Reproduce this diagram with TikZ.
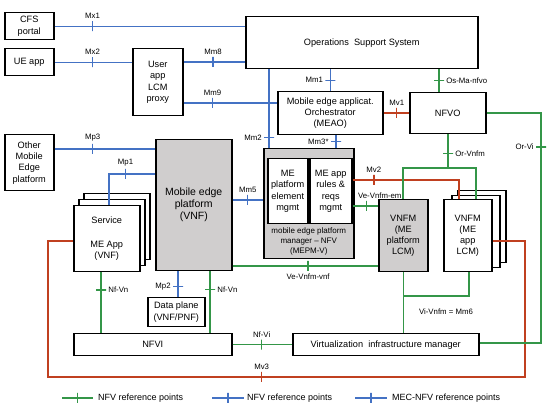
\documentclass[tikz,border=0pt]{standalone}
\usepackage{fontspec}
\setmainfont{Liberation Sans}
\usepackage{tikz}
\usetikzlibrary{positioning}

\definecolor{mecblue}{RGB}{68,114,196}
\definecolor{nfvgreen}{RGB}{52,150,72}
\definecolor{mvred}{RGB}{192,64,32}
\definecolor{boxgray}{RGB}{208,206,206}

\begin{document}
\begin{tikzpicture}[
  x=1pt, y=-1pt,
  box/.style = {draw, line width=1.5pt, align=center, anchor=north west, fill=white,
                inner sep=1pt, font=\fontsize{9.2}{11.3}\selectfont},
  graybox/.style = {box, fill=boxgray},
  lbl/.style = {font=\fontsize{7.8}{9}\selectfont, inner sep=1pt, text=black},
  legend/.style = {font=\fontsize{9}{11}\selectfont, inner sep=1pt, anchor=west},
  tickh/.style = {draw=tickcolor, line width=1.4pt, minimum width=0pt, minimum height=10pt,
                  inner sep=0pt, label distance=4pt},
  tickv/.style = {draw=tickcolor, line width=1.4pt, minimum width=10pt, minimum height=0pt,
                  inner sep=0pt, label distance=2pt},
  mec/.style = {draw=mecblue, line width=1.4pt},
  nfv/.style = {draw=nfvgreen, line width=1.4pt},
  mv/.style = {draw=mvred, line width=1.4pt},
  every label/.style = {lbl}
]
  \useasboundingbox (0,0) rectangle (550,411);

  % left column
  \node[box, minimum width=49pt, minimum height=27pt] (cfs)   at (4,12)  {CFS\\portal};
  \node[box, minimum width=49pt, minimum height=27pt] (ueapp) at (4,48)  {UE app};
  \node[box, minimum width=50pt, minimum height=67pt] (proxy) at (132,48) {User\\app\\LCM\\proxy};
  \node[box, minimum width=49pt, minimum height=56pt] (other) at (4,134) {Other\\Mobile\\Edge\\platform};

  % management layer
  \node[box, minimum width=232pt, minimum height=52pt] (oss)  at (245,16) {Operations\ \ Support System};
  \node[box, minimum width=105pt, minimum height=43pt] (meao) at (277,91) {Mobile edge applicat.\\Orchestrator\\(MEAO)};
  \node[box, minimum width=76pt,  minimum height=41pt] (nfvo) at (409,92) {NFVO};

  % mobile edge platform and apps
  \node[graybox, minimum width=76pt, minimum height=131pt,
        font=\fontsize{10.5}{12}\selectfont] (mep) at (155,139) {Mobile edge\\platform\\(VNF)};
  \node[box, minimum width=66pt, minimum height=66pt] (meapp3) at (83,193) {};
  \node[box, minimum width=66pt, minimum height=66pt] (meapp2) at (78,199) {};
  \node[box, minimum width=66pt, minimum height=66pt] (meapp)  at (73,205) {Service\\[13pt]ME App\\(VNF)};

  % MEPM-V
  \node[graybox, minimum width=90pt, minimum height=110pt] (mepm) at (263,148) {};
  \node[box, minimum width=40pt, minimum height=65pt] (pfm)   at (267,158) {ME\\platform\\element\\mgmt};
  \node[box, minimum width=42pt, minimum height=65pt] (rules) at (309,158) {ME app\\rules \&\\reqs\\mgmt};
  \node[font=\fontsize{8}{10}\selectfont, align=center, inner sep=1pt, below=2pt]
       (mepmtxt) at (pfm.south -| mepm.center) {mobile edge platform\\manager – NFV\\(MEPM-V)};

  % VNF managers
  \node[graybox, minimum width=49pt, minimum height=72pt] (vnfmp) at (378,199) {VNFM\\(ME\\platform\\LCM)};
  \node[box, minimum width=48pt, minimum height=72pt] (vnfma3) at (457,190) {};
  \node[box, minimum width=48pt, minimum height=72pt] (vnfma2) at (451,195) {};
  \node[box, minimum width=48pt, minimum height=72pt] (vnfma)  at (443,199) {VNFM\\(ME\\app\\LCM)};

  % infrastructure
  \node[box, minimum width=57pt,  minimum height=29pt] (dplane) at (147,297) {Data plane\\(VNF/PNF)};
  \node[box, minimum width=158pt, minimum height=22pt] (nfvi)   at (73,333)  {NFVI};
  \node[box, minimum width=186pt, minimum height=22pt] (vim)    at (292,333) {Virtualization\ \ infrastructure manager};

  % MEC reference points
  \colorlet{tickcolor}{mecblue}
  \draw[mec] (cfs.east) -- node[tickh, pos=.2, label=above:Mx1] {} (cfs.east -| oss.west);
  \draw[mec] (ueapp.east) -- node[tickh, pos=.49, label=above:Mx2] {} (ueapp.east -| proxy.west);
  \draw[mec] (proxy.east |- 0,62) -- node[tickh, pos=.48, label=above:Mm8] {} (oss.west |- 0,62);
  \draw[mec] (proxy.east |- 0,103) -- node[tickh, pos=.31, label=above:Mm9] {} (meao.west |- 0,103);
  \draw[mec] (oss.south -| 269,0) -- node[tickv, pos=.87, label=left:Mm2] {} (mepm.north -| 269,0);
  \draw[mec] (meao.north |- oss.south) -- node[tickv, pos=.5, label=left:Mm1] {} (meao.north);
  \draw[mec] (meao.south -| 336,0) -- node[tickv, pos=.5, label=left:Mm3*] {} (mepm.north -| 336,0);
  \draw[mec] (mep.east |- 0,200) -- node[tickh, pos=.5, label=above:Mm5] {} (mepm.west |- 0,200);
  \draw[mec] (other.east |- 0,149) -- node[tickh, pos=.38, label=above:Mp3] {} (mep.west |- 0,149);
  \draw[mec] (mep.west |- 0,174) -| node[tickh, pos=.32, label=above:Mp1] {} (meapp.north -| 109,0);
  \draw[mec] (mep.south -| 178,0) -- node[tickv, pos=.6, label=left:Mp2] {} (dplane.north -| 178,0);

  % MEC-NFV reference points
  \colorlet{tickcolor}{mvred}
  \draw[mv] (meao.east |- 0,113) -- node[tickh, pos=.52, label=above:Mv1] {} (nfvo.west |- 0,113);
  \draw[mv] (rules.east |- 0,180) -| node[tickh, pos=.1, label=above:Mv2] {} (vnfma.north -| 459,0);
  \draw[mv] (meapp.west |- 0,241) -| (48,377) -| node[tickh, pos=.224, label=above:Mv3] {} (525,241)
            -- (vnfma.east |- 0,241);

  % NFV reference points
  \colorlet{tickcolor}{nfvgreen}
  \draw[nfv] (oss.south -| 439,0) -- node[tickv, pos=.5, label=right:Os-Ma-nfvo] {} (nfvo.north -| 439,0);
  \draw[nfv] (nfvo.east |- 0,113) -| node[tickv, pos=.574, label=left:Or-Vi] {} (541,343) -- (vim.east |- 0,343);
  \draw[nfv] (nfvo.south -| 448,0) -- node[tickv, pos=.56, label=right:Or-Vnfm] {} (448,168);
  \draw[nfv] (vnfmp.north -| 403,0) |- (476,168) -- (vnfma.north -| 476,0);
  \draw[nfv] (rules.east |- 0,206) -- node[tickh, pos=.56, label={[xshift=13pt]above:Ve-Vnfm-em}] {} (vnfmp.west |- 0,206);
  \draw[nfv] (mep.east |- 0,266) -- node[tickh, pos=.52, label=below:Ve-Vnfm-vnf] {} (vnfmp.west |- 0,266);
  \draw[nfv] (vnfmp.south) -- (vim.north -| vnfmp.south);
  \draw[nfv] (vnfma.south -| 469,0) |- (vnfmp.south |- 0,296);
  \node[lbl] (vivnfm) at (446,312) {Vi-Vnfm = Mm6};
  \draw[nfv] (meapp.south -| 101,0) -- node[tickv, pos=.29, label=right:Nf-Vn] {} (nfvi.north -| 101,0);
  \draw[nfv] (mep.south -| 210,0) -- node[tickv, pos=.29, label=right:Nf-Vn] {} (nfvi.north -| 210,0);
  \draw[nfv] (nfvi.east) -- node[tickh, pos=.49, label=above:Nf-Vi] {} (vim.west);

  % legend
  \node[legend] (lg1) at (97,398)  {NFV reference points};
  \node[legend] (lg2) at (246,398) {NFV reference points};
  \node[legend] (lg3) at (391,398) {MEC-NFV reference points};
  \draw[nfv] ([xshift=-35pt]lg1.west) -- node[tickh] {} ([xshift=-4pt]lg1.west);
  \colorlet{tickcolor}{mecblue}
  \draw[mec] ([xshift=-34pt]lg2.west) -- node[tickh] {} ([xshift=-2pt]lg2.west);
  \draw[mec] ([xshift=-36pt]lg3.west) -- node[tickh] {} ([xshift=-4pt]lg3.west);
\end{tikzpicture}
\end{document}
